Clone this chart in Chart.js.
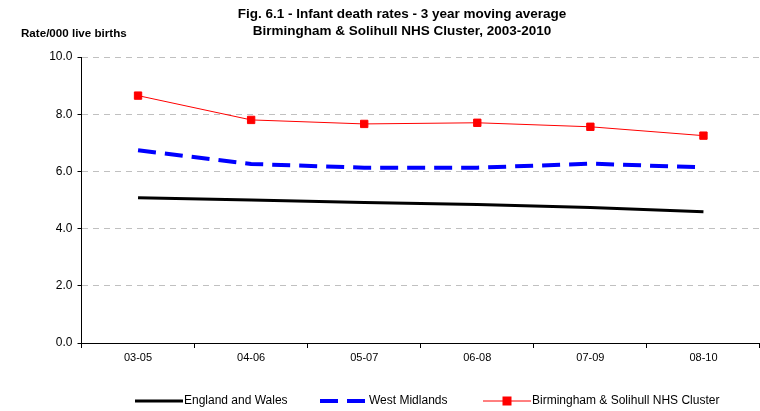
<!DOCTYPE html>
<html>
<head>
<meta charset="utf-8">
<script src="https://cdn.jsdelivr.net/npm/chart.js@4.4.0/dist/chart.umd.min.js"></script>
<style>
  body { margin: 0; background: #fff; }
  canvas { display: block; }
</style>
</head>
<body>
<canvas id="myChart" width="760" height="411"></canvas>
<script>
// 3 year moving average periods
const periods = ['03-05', '04-06', '05-07', '06-08', '07-09', '08-10'];
const englandWales = [5.08, 5.00, 4.91, 4.84, 4.74, 4.59];
const westMidlands = [6.74, 6.26, 6.13, 6.13, 6.27, 6.14];
const bsolCluster = [8.65, 7.80, 7.66, 7.70, 7.56, 7.25];
const yTicks = [0, 2, 4, 6, 8, 10];

const titleLines = ['Fig. 6.1 - Infant death rates - 3 year moving average',
                    'Birmingham & Solihull NHS Cluster, 2003-2010'];
const yTitle = 'Rate/000 live births';

const FONT = 'Arial, "Liberation Sans", sans-serif';

// 標題與自訂圖例
const textPlugin = {
    id: 'textPlugin',
    afterDraw(chart) {
        const ctx = chart.ctx;
        ctx.save();
        ctx.fillStyle = '#000';
        ctx.textBaseline = 'alphabetic';
        ctx.font = 'bold 13.5px ' + FONT;
        ctx.textAlign = 'center';
        ctx.fillText(titleLines[0], 402, 18);
        ctx.fillText(titleLines[1], 402, 35);
        ctx.font = 'bold 11.6px ' + FONT;
        ctx.textAlign = 'left';
        ctx.fillText(yTitle, 21, 37);

        // legend
        const y = 401;
        const starts = [135, 320, 483];
        ctx.font = '12px ' + FONT;
        ctx.textBaseline = 'middle';
        chart.data.datasets.forEach(function(ds, i) {
            const x0 = starts[i];
            ctx.beginPath();
            ctx.strokeStyle = ds.borderColor;
            ctx.lineWidth = ds.borderWidth;
            ctx.setLineDash(ds.borderDash || []);
            ctx.moveTo(x0, y);
            ctx.lineTo(x0 + 48, y);
            ctx.stroke();
            ctx.setLineDash([]);
            if (ds.pointRadius > 0) {
                ctx.fillStyle = ds.pointBackgroundColor;
                ctx.fillRect(x0 + 24 - 4.5, y - 4.5, 9, 9);
            }
            ctx.fillStyle = '#000';
            ctx.fillText(ds.label, x0 + 49, y);
        });
        ctx.restore();
    }
};

const canvas = document.getElementById('myChart');
const myChart = new Chart(canvas, {
    type: 'line',
    data: {
        labels: periods,
        datasets: [{
            label: 'England and Wales',
            data: englandWales,
            borderColor: '#000000',
            borderWidth: 3,
            pointRadius: 0,
            tension: 0
        }, {
            label: 'West Midlands',
            data: westMidlands,
            borderColor: '#0000ff',
            borderWidth: 4,
            borderDash: [18, 9],
            pointRadius: 0,
            tension: 0
        }, {
            label: 'Birmingham & Solihull NHS Cluster',
            data: bsolCluster,
            borderColor: '#ff0000',
            borderWidth: 1,
            pointStyle: 'rect',
            pointRadius: 5.2,
            pointBackgroundColor: '#ff0000',
            pointBorderColor: '#ff0000',
            pointBorderWidth: 1,
            tension: 0
        }]
    },
    options: {
        responsive: false,
        animation: false,
        layout: { autoPadding: false, padding: { top: 57, left: 0, right: 0, bottom: 0 } },
        plugins: {
            legend: { display: false },
            title: { display: false },
            tooltip: { enabled: false }
        },
        scales: {
            x: {
                offset: true,
                grid: {
                    offset: true,
                    drawOnChartArea: false,
                    tickLength: 5,
                    tickColor: '#000'
                },
                border: { color: '#000', width: 1 },
                ticks: {
                    color: '#000',
                    font: { family: FONT, size: 11 },
                    padding: 3,
                    maxRotation: 0
                },
                afterFit(scale) {
                    scale.height = 68;
                }
            },
            y: {
                min: 0,
                max: 10,
                afterBuildTicks(scale) {
                    scale.ticks = yTicks.map(v => ({ value: v }));
                },
                grid: {
                    color: '#c0c0c0',
                    tickColor: '#000',
                    tickLength: 4,
                    tickBorderDash: []
                },
                border: { color: '#000', width: 1, dash: [6, 5] },
                ticks: {
                    color: '#000',
                    font: { family: FONT, size: 12 },
                    padding: 5,
                    callback: v => v.toFixed(1)
                },
                afterFit(scale) { scale.width = 81.5; }
            }
        }
    },
    plugins: [textPlugin]
});
</script>
</body>
</html>
